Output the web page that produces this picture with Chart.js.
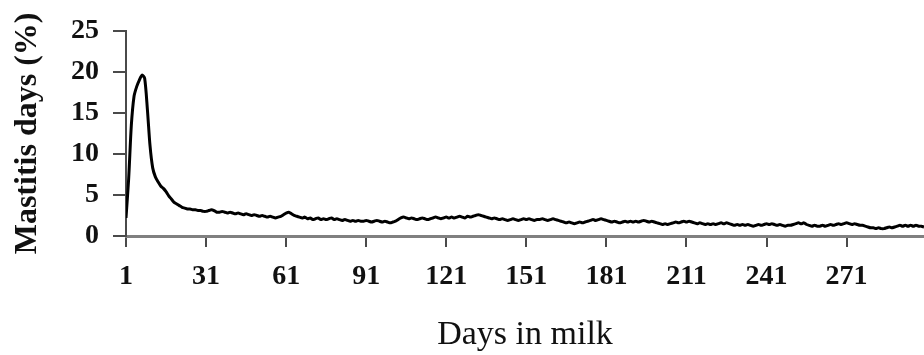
<!DOCTYPE html>
<html>
<head>
<meta charset="utf-8">
<title>Mastitis days by days in milk</title>
<script src="https://cdn.jsdelivr.net/npm/chart.js@4/dist/chart.umd.min.js"></script>
<style>
  html, body { margin: 0; padding: 0; background: #ffffff; }
  #wrap { width: 924px; height: 355px; }
</style>
</head>
<body>
<div id="wrap"><canvas id="chart" width="924" height="355"></canvas></div>
<script>
// Share of cow-days with mastitis (%) for each day in milk, days 1..300
const mastitisDays = [
  2.2, 7.0, 13.5, 17.0, 18.2, 19.0, 19.6, 19.2, 15.5, 11.0,
  8.3, 7.2, 6.6, 6.1, 5.8, 5.4, 4.9, 4.5, 4.1, 3.9,
  3.7, 3.5, 3.4, 3.3, 3.3, 3.2, 3.2, 3.1, 3.1, 3.0,
  3.0, 3.1, 3.2, 3.1, 2.9, 2.9, 3.0, 2.9, 2.8, 2.9,
  2.8, 2.7, 2.8, 2.7, 2.6, 2.7, 2.6, 2.5, 2.6, 2.5,
  2.4, 2.5, 2.4, 2.3, 2.4, 2.3, 2.2, 2.3, 2.4, 2.6,
  2.8, 2.9, 2.7, 2.5, 2.4, 2.3, 2.2, 2.3, 2.1, 2.2,
  2.0, 2.1, 2.2, 2.0, 2.1, 2.0, 2.1, 2.2, 2.0, 2.1,
  2.0, 1.9, 2.0, 1.9, 1.8, 1.9, 1.8, 1.9, 1.8, 1.8,
  1.9, 1.8, 1.7, 1.8, 1.9, 1.8, 1.7, 1.8, 1.7, 1.6,
  1.7, 1.8, 2.0, 2.2, 2.3, 2.2, 2.1, 2.2, 2.1, 2.0,
  2.1, 2.2, 2.1, 2.0, 2.1, 2.2, 2.3, 2.2, 2.1, 2.2,
  2.3, 2.2, 2.3, 2.2, 2.3, 2.4, 2.3, 2.2, 2.4, 2.3,
  2.4, 2.5, 2.6, 2.5, 2.4, 2.3, 2.2, 2.1, 2.2, 2.1,
  2.0, 2.1, 2.0, 1.9, 2.0, 2.1, 2.0, 1.9, 2.0, 2.1,
  2.0, 2.1, 2.0, 1.9, 2.0, 2.0, 2.1, 2.0, 1.9, 2.0,
  2.1, 2.0, 1.9, 1.8, 1.7, 1.6, 1.7, 1.6, 1.5, 1.6,
  1.7, 1.6, 1.7, 1.8, 1.9, 2.0, 1.9, 2.0, 2.1, 2.0,
  1.9, 1.8, 1.7, 1.8, 1.7, 1.6, 1.7, 1.8, 1.7, 1.8,
  1.7, 1.8, 1.7, 1.8, 1.9, 1.8, 1.7, 1.8, 1.7, 1.6,
  1.5, 1.4, 1.5, 1.4, 1.5, 1.6, 1.7, 1.6, 1.7, 1.8,
  1.7, 1.8, 1.7, 1.6, 1.5, 1.6, 1.5, 1.4, 1.5, 1.4,
  1.5, 1.4, 1.5, 1.6, 1.5, 1.6, 1.5, 1.4, 1.3, 1.4,
  1.3, 1.4, 1.3, 1.4, 1.3, 1.2, 1.3, 1.4, 1.3, 1.4,
  1.5, 1.4, 1.5, 1.4, 1.3, 1.4, 1.3, 1.2, 1.3, 1.3,
  1.4, 1.5, 1.6, 1.5, 1.6, 1.4, 1.3, 1.2, 1.3, 1.2,
  1.2, 1.3, 1.2, 1.3, 1.4, 1.3, 1.4, 1.5, 1.4, 1.5,
  1.6, 1.5, 1.4, 1.5, 1.4, 1.3, 1.3, 1.2, 1.1, 1.0,
  1.0, 0.9, 1.0, 0.9, 0.9, 1.0, 1.1, 1.0, 1.1, 1.2,
  1.3, 1.2, 1.3, 1.2, 1.3, 1.2, 1.3, 1.2, 1.2, 1.1
];

// Labelled day-in-milk ticks
const dayTicks = [1, 31, 61, 91, 121, 151, 181, 211, 241, 271];
// Labelled percentage ticks
const pctTicks = [0, 5, 10, 15, 20, 25];

const points = mastitisDays.map((v, i) => ({ x: i + 1, y: v }));

const serif = "'Liberation Serif', 'Times New Roman', Times, serif";
const axisInk = '#4a4a4a';

new Chart(document.getElementById('chart'), {
  type: 'line',
  data: {
    datasets: [{
      data: points,
      borderColor: '#000000',
      borderWidth: 3,
      pointRadius: 0,
      tension: 0.25,
      fill: false
    }]
  },
  options: {
    responsive: false,
    animation: false,
    devicePixelRatio: 1,
    layout: { padding: { top: 28, right: 0, bottom: 0, left: 0 } },
    plugins: { legend: { display: false }, tooltip: { enabled: false } },
    scales: {
      x: {
        type: 'linear',
        min: 1,
        max: 300,
        afterBuildTicks: s => { s.ticks = dayTicks.map(v => ({ value: v })); },
        afterFit: s => { s.height = 119; },
        grid: { drawOnChartArea: false, drawTicks: true, tickLength: 11, color: axisInk, lineWidth: 2 },
        border: { display: true, color: '#808080', width: 3 },
        ticks: {
          autoSkip: false,
          maxRotation: 0,
          padding: 13,
          color: '#111111',
          font: { family: serif, size: 28, weight: 'bold' },
          callback: v => String(v)
        },
        title: {
          display: true,
          text: 'Days in milk',
          color: '#111111',
          font: { family: serif, size: 34, weight: 'normal' },
          padding: { top: 0, bottom: 0 }
        }
      },
      y: {
        min: 0,
        max: 25,
        afterBuildTicks: s => { s.ticks = pctTicks.map(v => ({ value: v })); },
        afterFit: s => { s.width = 126; },
        grid: { drawOnChartArea: false, drawTicks: true, tickLength: 13, color: axisInk, lineWidth: 2 },
        border: { display: true, color: axisInk, width: 2 },
        ticks: {
          padding: 14,
          color: '#111111',
          font: { family: serif, size: 28, weight: 'bold' },
          callback: v => String(v)
        },
        title: {
          display: true,
          text: 'Mastitis days (%)',
          color: '#111111',
          font: { family: serif, size: 32, weight: 'bold' },
          padding: { top: 9, bottom: 0 }
        }
      }
    }
  }
});
</script>
</body>
</html>
